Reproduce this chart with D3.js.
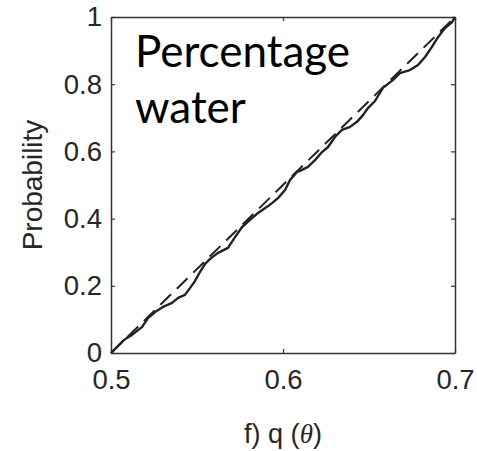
<!DOCTYPE html>
<html>
<head>
<meta charset="utf-8">
<script src="https://cdn.jsdelivr.net/npm/d3@7"></script>
<style>
    body { margin: 0; background: #fff; }
    .tick text { font-family: "Liberation Sans", Arial, sans-serif; fill: #262626; }
</style>
</head>
<body>
<svg id="chart"></svg>
<script>
const qValues = [0.5, 0.507, 0.5093, 0.5122, 0.518, 0.5215, 0.5256, 0.5302, 0.5355, 0.539,
    0.543, 0.5459, 0.5488, 0.5517, 0.5547, 0.5576, 0.5622, 0.568, 0.5721, 0.5762,
    0.5808, 0.5855, 0.5907, 0.5936, 0.5971, 0.6012, 0.6041, 0.6081, 0.6099, 0.6145,
    0.6186, 0.6227, 0.6262, 0.6302, 0.6343, 0.639, 0.643, 0.6465, 0.6494, 0.6535,
    0.6581, 0.664, 0.668, 0.6738, 0.6785, 0.6826, 0.6866, 0.6901, 0.6942, 0.6983, 0.7];
const probValues = [0, 0.036, 0.045, 0.054, 0.077, 0.104, 0.122, 0.137, 0.149, 0.164,
    0.173, 0.193, 0.214, 0.241, 0.265, 0.28, 0.298, 0.313, 0.345, 0.375,
    0.396, 0.417, 0.435, 0.446, 0.461, 0.485, 0.515, 0.539, 0.542, 0.554,
    0.574, 0.598, 0.613, 0.643, 0.664, 0.673, 0.688, 0.708, 0.729, 0.75,
    0.789, 0.813, 0.833, 0.842, 0.857, 0.881, 0.911, 0.94, 0.967, 0.985, 1];

// reference (uniform) CDF: straight line
const refQ = [0.5, 0.7];
const refProb = [0, 1];

const xTicks = [0.5, 0.6, 0.7];
const xTickLabels = ["0.5", "0.6", "0.7"];
const yTicks = [0, 0.2, 0.4, 0.6, 0.8, 1];
const yTickLabels = ["0", "0.2", "0.4", "0.6", "0.8", "1"];

const width = 477, height = 451;
const margin = { top: 17, right: 22, bottom: 98, left: 111 };
const lineColor = "#222";

const svg = d3.select("#chart")
    .attr("width", width)
    .attr("height", height);

const x = d3.scaleLinear().domain([0.5, 0.7]).range([margin.left, width - margin.right]);
const y = d3.scaleLinear().domain([0, 1]).range([height - margin.bottom, margin.top]);

// 坐标轴 (ticks point inward, matlab style box)
const fmtX = d => xTickLabels[xTicks.indexOf(d)];
const fmtY = d => yTickLabels[yTicks.indexOf(d)];

svg.append("g")
    .attr("transform", `translate(0,${y(0)})`)
    .call(d3.axisBottom(x).tickValues(xTicks).tickFormat(fmtX).tickSizeInner(-4).tickSizeOuter(0).tickPadding(16))
    .call(g => g.selectAll("text").attr("font-size", 27.5));

svg.append("g")
    .attr("transform", `translate(${x(0.5)},0)`)
    .call(d3.axisLeft(y).tickValues(yTicks).tickFormat(fmtY).tickSizeInner(-4).tickSizeOuter(0).tickPadding(9))
    .call(g => g.selectAll("text").attr("font-size", 27.5));

svg.append("g")
    .attr("transform", `translate(0,${y(1)})`)
    .call(d3.axisTop(x).tickValues(xTicks).tickFormat("").tickSizeInner(-4).tickSizeOuter(0));

svg.append("g")
    .attr("transform", `translate(${x(0.7)},0)`)
    .call(d3.axisRight(y).tickValues(yTicks).tickFormat("").tickSizeInner(-4).tickSizeOuter(0));

svg.selectAll(".domain").attr("stroke", "#333").attr("stroke-width", 1.5);
svg.selectAll(".tick line").attr("stroke", "#333").attr("stroke-width", 1.2);

// 线条
const line = d3.line()
    .x(d => x(d[0]))
    .y(d => y(d[1]));

svg.append("path")
    .datum(d3.zip(refQ, refProb))
    .attr("d", line)
    .attr("fill", "none")
    .attr("stroke", lineColor)
    .attr("stroke-width", 2)
    .attr("stroke-dasharray", "15,8");

svg.append("path")
    .datum(d3.zip(qValues, probValues))
    .attr("d", line)
    .attr("fill", "none")
    .attr("stroke", lineColor)
    .attr("stroke-width", 2.4)
    .attr("stroke-linejoin", "round");

// axis titles
svg.append("text")
    .attr("transform", `translate(42,${(y(0) + y(1)) / 2}) rotate(-90)`)
    .attr("text-anchor", "middle")
    .attr("font-family", "Liberation Sans, Arial, sans-serif")
    .attr("font-size", 28)
    .attr("fill", "#262626")
    .text("Probability");

const xTitle = svg.append("text")
    .attr("x", (x(0.5) + x(0.7)) / 2)
    .attr("y", 443)
    .attr("text-anchor", "middle")
    .attr("font-family", "Liberation Sans, Arial, sans-serif")
    .attr("font-size", 27)
    .attr("fill", "#262626");
xTitle.append("tspan").text("f) q (");
xTitle.append("tspan").attr("font-family", "Liberation Serif, serif").attr("font-style", "italic").text("θ");
xTitle.append("tspan").text(")");

// panel label
const label = svg.append("text")
    .attr("font-family", "Lato, sans-serif")
    .attr("font-size", 44)
    .attr("fill", "#000");
label.append("tspan").attr("x", 135).attr("y", 67).text("Percentage");
label.append("tspan").attr("x", 135).attr("y", 123).text("water");
</script>
</body>
</html>
